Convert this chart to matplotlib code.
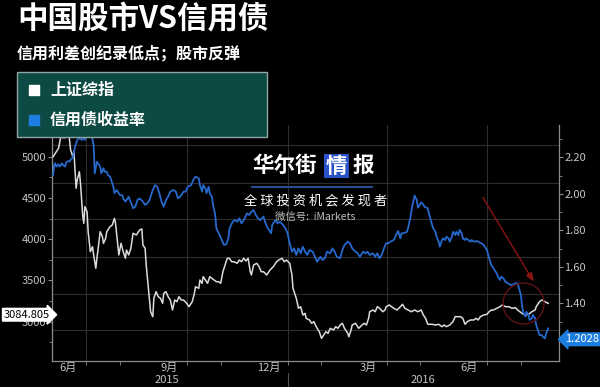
import numpy as np
import pandas as pd
import matplotlib
matplotlib.use('Agg')
import matplotlib.pyplot as plt
from matplotlib.patches import Rectangle
from matplotlib.transforms import blended_transform_factory

plt.rcParams['font.family'] = ['Noto Sans CJK SC', 'DejaVu Sans']

# data, days counted from 2015-06-01
start = pd.Timestamp('2015-06-01')

sh_day = [0, 2, 5, 7, 9, 11, 12, 14, 15, 16, 18, 19, 21, 22, 24, 25, 27, 28, 29, 31, 32, 34, 36, 37, 39, 40, 43, 45, 46, 48,
          49, 52, 54, 56, 57, 59, 60, 62, 64, 66, 67, 69, 71,
          73, 76, 78, 79, 81, 82, 84, 85, 87, 89, 91, 92, 94, 96, 98, 100, 101, 103, 105, 107, 109, 111, 113, 115, 117, 119,
          122, 124, 127, 129, 130, 133, 134, 136, 137, 139, 141, 143, 145, 147, 149, 151, 153, 155, 157, 159, 161, 163, 165,
          168, 170, 172, 174, 176, 178, 180, 181, 183, 186, 188, 190,
          192, 195, 198, 201, 204, 206, 209, 211, 213, 216, 218, 219, 221, 222, 224, 226, 228, 230, 231, 234, 236, 238, 241,
          243, 245, 247, 249, 251, 253, 256, 258, 260, 262, 264, 266, 269, 270, 272, 273, 276, 278, 279, 282, 284, 286, 288,
          289, 292, 294, 296, 298, 301, 303, 304, 307, 309,
          311, 314, 317, 319, 321, 324, 327, 330, 333, 336, 338, 340, 342, 346, 349, 352, 355, 357, 359, 362, 365, 367, 370,
          372, 374, 376, 378, 381, 384, 386, 388, 390, 393, 396, 398, 400, 402, 405, 408, 410, 413, 416, 419, 422, 424,
          428, 431, 434, 437, 440, 441, 444, 446, 448, 450, 452]
sh_index = [5000, 5041, 5102, 5242, 5230, 5230, 5263, 5296, 5202, 5081, 5000, 5061, 4617, 4718, 4818, 4678, 4293, 4193,
            4394, 4333, 4091, 3849, 3909, 3809, 3647, 3769, 4091, 4030, 3950, 4011, 4091, 4152, 4172, 4253, 4193, 3930,
            3809, 3950, 3849, 3769, 3869, 3809, 3890,
            4072, 4051, 4091, 4112, 4124, 3930, 3890, 3687, 3405, 3121, 3061, 3284, 3364, 3303, 3284, 3223, 3344, 3364,
            3303, 3263, 3142, 3263, 3243, 3303, 3263, 3263, 3223, 3182, 3243, 3344, 3424, 3405, 3505, 3466, 3546, 3505,
            3466, 3546, 3526, 3505, 3485, 3485, 3466, 3606, 3687, 3769, 3769, 3727, 3727, 3708, 3748, 3727, 3769, 3736,
            3769, 3606, 3566, 3687, 3708, 3667, 3606,
            3606, 3566, 3627, 3667, 3727, 3748, 3769, 3727, 3748, 3708, 3566, 3405, 3324, 3284, 3163, 3182, 3081, 3102,
            3041, 3021, 2981, 3001, 2920, 2879, 2799, 2839, 2879, 2859, 2920, 2900, 2940, 2920, 2960, 2981, 2920, 2859,
            2818, 2900, 2960, 2981, 2940, 2920, 2960, 2981, 2960, 3041, 3121, 3142, 3121, 3182, 3163, 3121, 3142, 3182,
            3203, 3182,
            3163, 3142, 3182, 3211, 3163, 3142, 3121, 3142, 3121, 3142, 3081, 3041, 2969, 2969, 2960, 2969, 2940, 2960,
            2940, 2960, 3000, 3061, 3061, 3061, 3041, 2969, 3000, 3021, 3021, 3041, 3021, 3061, 3081, 3090, 3121, 3142,
            3142, 3163, 3182, 3203, 3182, 3182, 3163, 3170, 3142,
            3102, 3081, 3090, 3121, 3142, 3182, 3243, 3263, 3251, 3235, 3223]

bond_day = [0, 1, 2, 3, 5, 6, 8, 9, 11, 12, 14, 15, 17, 18, 20, 22, 23, 25, 26, 28, 29, 31, 32, 34, 35, 37, 38, 40, 41, 43,
            44, 46, 47, 49, 50, 52, 53, 55, 56, 58, 60, 61, 63, 64, 66, 67, 69, 70, 72,
            73, 75, 77, 79, 82, 84, 86, 88, 91, 93, 95, 97, 99, 101, 103, 105, 107, 110, 112, 114, 116, 119, 121, 123, 126,
            128, 130, 133, 134, 136, 137, 139, 140, 142, 143, 145, 146, 148, 149, 152, 154, 156, 158, 160, 161, 164, 166,
            168, 170, 172, 174, 177, 179, 181, 183, 185, 187, 189,
            192, 194, 196, 199, 200, 203, 205, 207, 210, 212, 214, 216, 218, 220, 222, 224, 226, 228, 230, 232, 234, 237,
            239, 241, 244, 246, 248, 250, 253, 255, 257, 259, 262, 264, 266, 269, 271, 273, 276, 278, 280, 283, 285, 287,
            289, 292, 294, 296, 298, 300, 302, 304, 306, 308,
            311, 313, 315, 317, 318, 320, 323, 324, 326, 328, 330, 332, 333, 335, 336, 338, 339, 342, 343, 346, 347, 349,
            350, 352, 353, 355, 356, 358, 359, 361, 362, 364, 365, 367, 368, 370, 371, 373, 374, 376, 377, 379, 381, 382,
            384, 387, 389, 391, 393, 395, 396, 398, 399, 400, 402, 403, 405, 406, 408, 409, 411, 413, 415, 418, 420, 422, 424,
            427, 428, 429, 431, 432, 434, 435, 437, 438, 440, 441, 443, 444, 446, 447, 449, 450, 452]
bond_yield = [2.103, 2.158, 2.167, 2.149, 2.162, 2.149, 2.167, 2.158, 2.149, 2.173, 2.180, 2.176, 2.195, 2.195, 2.258,
              2.295, 2.300, 2.304, 2.295, 2.304, 2.295, 2.331, 2.337, 2.331, 2.326, 2.267, 2.112, 2.176, 2.167, 2.149,
              2.112, 2.140, 2.121, 2.121, 2.103, 2.094, 2.076, 2.039, 2.003, 2.021, 2.003, 1.993, 1.993, 1.975, 1.957,
              1.966, 1.984, 1.966, 1.939,
              1.921, 1.929, 1.966, 1.975, 1.957, 1.939, 1.948, 1.966, 2.021, 2.048, 2.039, 2.003, 1.957, 1.929, 1.966,
              1.984, 2.012, 2.021, 2.012, 1.975, 1.984, 2.012, 2.012, 2.039, 2.048, 2.076, 2.094, 2.085, 2.048, 2.012,
              2.048, 2.030, 2.003, 2.039, 2.003, 1.984, 1.939, 1.884, 1.811, 1.774, 1.747, 1.720, 1.723, 1.756, 1.811,
              1.847, 1.856, 1.847, 1.866, 1.838, 1.856, 1.893, 1.884, 1.902, 1.911, 1.884, 1.866, 1.856,
              1.875, 1.838, 1.811, 1.784, 1.829, 1.856, 1.838, 1.847, 1.829, 1.811, 1.784, 1.729, 1.683, 1.701, 1.665,
              1.701, 1.674, 1.710, 1.683, 1.665, 1.692, 1.683, 1.655, 1.628, 1.655, 1.637, 1.647, 1.683, 1.674, 1.701,
              1.683, 1.655, 1.647, 1.692, 1.720, 1.738, 1.729, 1.701, 1.683, 1.674, 1.655, 1.683, 1.674, 1.683, 1.665,
              1.674, 1.655, 1.674, 1.647, 1.665, 1.701, 1.729, 1.729, 1.738,
              1.747, 1.774, 1.796, 1.756, 1.784, 1.784, 1.792, 1.811, 1.866, 1.939, 1.990, 1.966, 1.924, 1.942, 1.953,
              1.942, 1.929, 1.921, 1.893, 1.829, 1.811, 1.792, 1.765, 1.738, 1.710, 1.747, 1.756, 1.747, 1.765, 1.756,
              1.738, 1.765, 1.792, 1.774, 1.792, 1.774, 1.802, 1.784, 1.756, 1.747, 1.756, 1.747, 1.738, 1.747, 1.738,
              1.741, 1.734, 1.729, 1.720, 1.701, 1.692, 1.647, 1.628, 1.610, 1.592, 1.583, 1.564, 1.546, 1.528, 1.546,
              1.537, 1.518, 1.510, 1.500, 1.504, 1.510, 1.510,
              1.446, 1.391, 1.354, 1.327, 1.354, 1.336, 1.309, 1.318, 1.336, 1.318, 1.281, 1.244, 1.226, 1.226, 1.217,
              1.208, 1.236, 1.263]

last_sh = 3084.805
last_bond = 1.2028

month_labels = ['6月', '9月', '12月', '3月', '6月']
month_label_dates = ['2015-06-15', '2015-09-15', '2015-12-15', '2016-03-15', '2016-06-15']
legend_names = ['上证综指', '信用债收益率']

WHITE = '#dcdcdc'
BLUE = '#2768cc'
GRID = '#2e2e2e'
TXT = '#c4c4c4'
SPINE = '#8c8c8c'

sh_dates = start + pd.to_timedelta(sh_day, unit='D')
bond_dates = start + pd.to_timedelta(bond_day, unit='D')

fig = plt.figure(figsize=(6, 3.87), dpi=100, facecolor='black')
ax = fig.add_axes([52 / 600, 1 - 361 / 387, 507 / 600, 236 / 387])
ax.set_facecolor('black')
ax2 = ax.twinx()

# grid
for lv in [2900, 3342, 3790, 4239, 4687, 5142]:
    ax.axhline(lv, color=GRID, lw=0.8, zorder=0)
for q in ['2015-07-01', '2015-10-01', '2016-01-01', '2016-04-01', '2016-07-01']:
    ax.axvline(pd.Timestamp(q), color=GRID, lw=0.8, zorder=0)

ax.plot(sh_dates, sh_index, color=WHITE, lw=1.1, zorder=3)
ax2.plot(bond_dates, bond_yield, color=BLUE, lw=1.3, zorder=3)

ax.set_xlim(start - pd.Timedelta(days=1), start + pd.Timedelta(days=461.8))
ax.set_ylim(2524, 5384)
ax2.set_ylim(1.084, 2.377)

# axes look
for a in (ax, ax2):
    for s in a.spines.values():
        s.set_visible(False)
ax.spines['left'].set_visible(True)
ax.spines['bottom'].set_visible(True)
ax2.spines['right'].set_visible(True)
for s in (ax.spines['left'], ax.spines['bottom'], ax2.spines['right']):
    s.set_color(SPINE)
    s.set_linewidth(0.9)

ax.set_yticks([3000, 3500, 4000, 4500, 5000])
ax.set_yticks([2750, 3250, 3750, 4250, 4750, 5250], minor=True)
ax.tick_params(axis='y', which='major', colors=SPINE, labelcolor=TXT, labelsize=8, length=3, pad=1)
ax.tick_params(axis='y', which='minor', colors=SPINE, length=2)

# 1.20 sits under the last-value tag, so it gets no label
ax2.set_yticks([1.2, 1.4, 1.6, 1.8, 2.0, 2.2])
ax2.set_yticklabels([''] + ['%.2f' % v for v in [1.4, 1.6, 1.8, 2.0, 2.2]])
ax2.set_yticks([1.3, 1.5, 1.7, 1.9, 2.1, 2.3], minor=True)
ax2.tick_params(axis='y', which='major', colors=SPINE, labelcolor=TXT, labelsize=8, length=3, pad=1)
ax2.tick_params(axis='y', which='minor', colors=SPINE, length=2)

ax.set_xticks(pd.to_datetime(month_label_dates))
ax.set_xticklabels(month_labels)
minor_months = [d for d in pd.date_range('2015-07-01', '2016-09-01', freq='MS') if d.month not in (3, 6, 9, 12)]
ax.set_xticks(minor_months, minor=True)
ax.tick_params(axis='x', which='major', length=0, pad=1, labelsize=8, labelcolor=TXT)
ax.tick_params(axis='x', which='minor', length=3, color=SPINE)

tr = blended_transform_factory(ax.transData, ax.transAxes)
ax.text(pd.Timestamp('2015-09-13'), -0.079, '2015', transform=tr, ha='center', va='center', fontsize=8, color=TXT)
ax.text(pd.Timestamp('2016-05-04'), -0.079, '2016', transform=tr, ha='center', va='center', fontsize=8, color=TXT)
jan = pd.Timestamp('2016-01-01')
ax.plot([jan, jan], [-0.05, -0.12], transform=tr, color='#555555', lw=0.8, clip_on=False)

# last value tags
trl = blended_transform_factory(ax.transAxes, ax.transData)
ax.text(-0.004, last_sh, '%.3f' % last_sh, transform=trl, ha='right', va='center', fontsize=8, color='black',
        zorder=6, bbox=dict(boxstyle='rarrow,pad=0.12', fc='white', ec='white'))
trr = blended_transform_factory(ax2.transAxes, ax2.transData)
ax2.text(1.012, last_bond, '%.4f' % last_bond, transform=trr, ha='left', va='center', fontsize=8, color='white',
         zorder=6, bbox=dict(boxstyle='larrow,pad=0.12', fc='#1e7de0', ec='#1e7de0'))

# red arrow and circle
ax2.annotate('', xy=(start + pd.Timedelta(days=440), 1.506), xytext=(start + pd.Timedelta(days=391), 1.993),
             arrowprops=dict(arrowstyle='-|>,head_length=0.5,head_width=0.2', color='#8a1414', lw=1.0), zorder=5)
ax2.plot([start + pd.Timedelta(days=429)], [1.404], 'o', ms=29.5, mfc='none', mec='#5c1414', mew=1.0, zorder=5)

# title block
fig.text(17 / 600, 1 - 19 / 387, '中国股市VS信用债', fontsize=22, fontweight='bold', color='white', ha='left', va='center')
fig.text(17 / 600, 1 - 53 / 387, '信用利差创纪录低点；股市反弹', fontsize=11.5, fontweight='bold', color='white',
         ha='left', va='center')

# legend box
fig.add_artist(Rectangle((16.7 / 600, 1 - 136.7 / 387), 250 / 600, 65 / 387, transform=fig.transFigure,
                         fc='#0e4a44', ec='#8fa8a4', lw=1.0, zorder=5))
for i, (name, col) in enumerate(zip(legend_names, ['white', '#1e7de0'])):
    yc = 1 - (90 + 30 * i) / 387
    fig.add_artist(Rectangle((28.5 / 600, yc - 5 / 387), 10 / 600, 10 / 387, transform=fig.transFigure,
                             fc=col, ec=col, zorder=6))
    fig.text(50 / 600, yc, name, fontsize=11.5, fontweight='bold', color='white', ha='left', va='center', zorder=7)

# watermark
fig.text(285 / 600, 1 - 165 / 387, '华尔街', fontsize=15.5, fontweight='bold', color='white', ha='center', va='center')
fig.text(336.5 / 600, 1 - 166 / 387, '情', fontsize=15.5, fontweight='bold', color='white', ha='center', va='center',
         bbox=dict(boxstyle='square,pad=0.08', fc='#2a52c8', ec='none'))
fig.text(363 / 600, 1 - 165 / 387, '报', fontsize=15.5, fontweight='bold', color='white', ha='center', va='center')
fig.add_artist(plt.Line2D([252 / 600, 372 / 600], [1 - 186.7 / 387, 1 - 186.7 / 387], transform=fig.transFigure,
                          color='#2b4c8c', lw=1.5))
fig.text(316 / 600, 1 - 201 / 387, '全 球 投 资 机 会 发 现 者', fontsize=9.5, color='white', ha='center', va='center')
fig.text(315 / 600, 1 - 217 / 387, '微信号:  iMarkets', fontsize=7.5, color='#bdbdbd', ha='center', va='center')

fig.savefig('out.png', dpi=100, facecolor='black')
